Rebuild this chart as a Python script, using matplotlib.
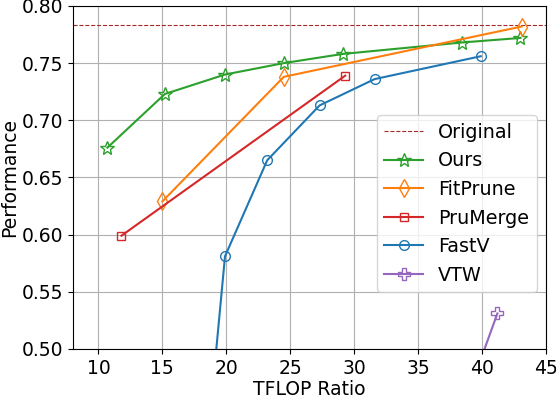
import matplotlib
matplotlib.use('Agg')
import matplotlib.pyplot as plt

# Data
original = 0.783

ours_x = [10.7, 15.2, 19.9, 24.5, 29.1, 38.4, 43.0]
ours_y = [0.676, 0.723, 0.740, 0.750, 0.758, 0.768, 0.772]

fitprune_x = [15.0, 24.5, 43.1]
fitprune_y = [0.629, 0.738, 0.782]

prumerge_x = [11.8, 29.3]
prumerge_y = [0.599, 0.739]

fastv_x = [18.8, 19.9, 23.2, 27.3, 31.6, 39.9]
fastv_y = [0.45, 0.581, 0.665, 0.713, 0.736, 0.756]

vtw_x = [38.9, 41.2]
vtw_y = [0.46, 0.531]

plt.rcParams['font.size'] = 13.5

fig = plt.figure(figsize=(5.56, 3.96), dpi=100)
ax = fig.add_axes([0.131, 0.119, 0.851, 0.866])

ax.axhline(original, color='brown', linestyle='--', linewidth=0.8, label='Original')
ax.plot(ours_x, ours_y, color='tab:green', marker='*', markersize=10, markerfacecolor='none', label='Ours')
ax.plot(fitprune_x, fitprune_y, color='tab:orange', marker='d', markersize=9, markerfacecolor='none', label='FitPrune')
ax.plot(prumerge_x, prumerge_y, color='tab:red', marker='s', markersize=6, markerfacecolor='none', label='PruMerge')
ax.plot(fastv_x, fastv_y, color='tab:blue', marker='o', markersize=7, markerfacecolor='none', label='FastV')
ax.plot(vtw_x, vtw_y, color='tab:purple', marker='P', markersize=9, markerfacecolor='none', label='VTW')

ax.set_xlim(8, 45)
ax.set_ylim(0.50, 0.80)
ax.set_xticks([10, 15, 20, 25, 30, 35, 40, 45])
ax.set_yticks([0.50, 0.55, 0.60, 0.65, 0.70, 0.75, 0.80])
ax.tick_params(labelsize=13.5)
ax.set_xlabel('TFLOP Ratio', labelpad=2)
ax.set_ylabel('Performance', labelpad=2)
ax.grid(True)
ax.legend(loc='lower right', bbox_to_anchor=(0.98, 0.165), borderaxespad=0, fontsize=13.75)

fig.savefig('out.png', dpi=100)
